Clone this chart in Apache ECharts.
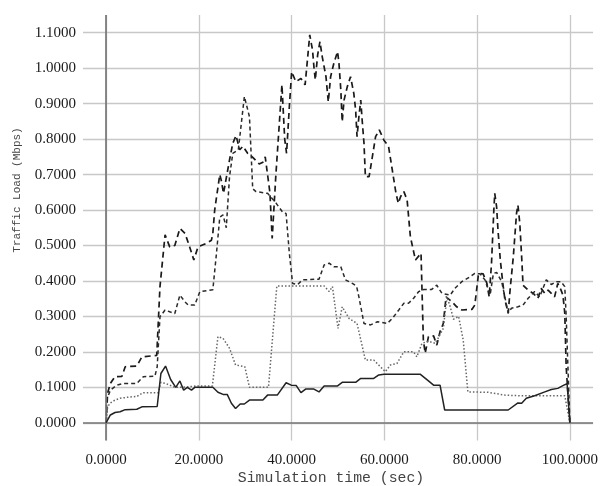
<!DOCTYPE html>
<html><head><meta charset="utf-8">
<script src="https://cdn.jsdelivr.net/npm/echarts@6/dist/echarts.min.js"></script>
<style>html,body{margin:0;padding:0;background:#fff}#c{width:601px;height:486px}</style>
</head><body><div id="c"></div>
<script>
const xTicks = [0, 20, 40, 60, 80, 100];
const yTicks = [0, 0.1, 0.2, 0.3, 0.4, 0.5, 0.6, 0.7, 0.8, 0.9, 1.0, 1.1];
const xTitle = 'Simulation time (sec)';
const yTitle = 'Traffic Load (Mbps)';

// Solid line
const solidT = [0, 0.9, 1.9, 3, 4.1, 6.6, 7.7, 11, 11.8, 12.8, 13.9, 15, 15.9, 16.7, 17.5, 18.4, 19.1, 20, 23, 24.1, 25.2, 26.1, 27, 27.9, 28.9, 29.8, 30.9, 33.8, 34.8, 36.9, 38.8, 39.9, 41, 42, 43, 44.8, 45.9, 47, 49.9, 50.9, 53.8, 54.9, 57.7, 58.8, 59.9, 67.7, 69.5, 70.6, 72, 73, 86.7, 88.8, 89.6, 90.6, 92.4, 94.6, 96, 97.4, 98.7, 99.4, 100];
const solidV = [0, 0.022, 0.029, 0.031, 0.037, 0.038, 0.045, 0.046, 0.139, 0.16, 0.122, 0.10, 0.118, 0.092, 0.10, 0.092, 0.10, 0.10, 0.10, 0.086, 0.08, 0.08, 0.055, 0.04, 0.053, 0.053, 0.064, 0.064, 0.078, 0.078, 0.113, 0.106, 0.105, 0.085, 0.095, 0.095, 0.087, 0.104, 0.104, 0.114, 0.114, 0.125, 0.125, 0.135, 0.137, 0.137, 0.118, 0.106, 0.106, 0.036, 0.036, 0.056, 0.055, 0.069, 0.076, 0.087, 0.094, 0.097, 0.106, 0.11, 0];

// Dotted line
const dotT = [0, 0.3, 0.9, 1.9, 3, 5.2, 6.6, 8, 11.2, 11.8, 13, 14.8, 16.6, 19.5, 22.9, 24.1, 25.2, 26.6, 27.9, 29.9, 30.9, 35, 36.8, 39.5, 41.6, 47, 48.1, 48.8, 50, 50.9, 52.4, 54.1, 55.9, 57.7, 60.2, 61.3, 62.7, 64.2, 66.3, 67, 68.1, 69.5, 71, 72.7, 73.5, 74.2, 74.9, 76, 77, 78, 82.4, 86, 89.6, 98.9, 100];
const dotV = [0, 0.045, 0.056, 0.064, 0.069, 0.073, 0.074, 0.085, 0.085, 0.114, 0.11, 0.10, 0.10, 0.104, 0.104, 0.243, 0.238, 0.21, 0.163, 0.158, 0.10, 0.10, 0.386, 0.386, 0.386, 0.386, 0.37, 0.384, 0.266, 0.327, 0.294, 0.28, 0.177, 0.177, 0.144, 0.163, 0.167, 0.20, 0.20, 0.186, 0.224, 0.23, 0.224, 0.266, 0.355, 0.327, 0.292, 0.30, 0.233, 0.087, 0.086, 0.078, 0.076, 0.076, 0];

// Short-dashed line
const shortT = [0, 0.1, 0.9, 2.3, 3.7, 6.6, 8, 10.5, 11, 11.6, 12.7, 13.7, 14.8, 15.9, 17, 17.7, 19.1, 20.2, 23, 23.8, 24.5, 25.2, 25.9, 26.6, 27.3, 28.5, 29.8, 30.9, 31.6, 32.3, 34.8, 36.6, 38, 38.8, 39.5, 40.2, 41.3, 42.3, 45.9, 47, 48.1, 49.1, 50.6, 51.6, 53.1, 54, 54.5, 55.6, 57, 58.5, 60.6, 61.7, 63.1, 64.2, 65.2, 66.3, 67.4, 68.5, 70.2, 71.3, 72.4, 74.2, 75.2, 76.7, 78.5, 79.5, 80.6, 81.7, 82.8, 83.5, 84.2, 85.3, 86.7, 87.4, 88.8, 89.9, 91, 92.4, 93.5, 94.9, 96, 97.1, 98.1, 98.9, 99.2, 100];
const shortV = [0, 0.064, 0.092, 0.106, 0.111, 0.111, 0.13, 0.131, 0.158, 0.299, 0.318, 0.313, 0.308, 0.36, 0.341, 0.332, 0.332, 0.37, 0.375, 0.48, 0.58, 0.586, 0.55, 0.694, 0.76, 0.77, 0.92, 0.863, 0.66, 0.652, 0.647, 0.62, 0.595, 0.59, 0.478, 0.393, 0.39, 0.403, 0.405, 0.445, 0.45, 0.44, 0.44, 0.403, 0.393, 0.385, 0.355, 0.28, 0.276, 0.285, 0.28, 0.294, 0.318, 0.337, 0.337, 0.351, 0.37, 0.376, 0.376, 0.388, 0.365, 0.36, 0.379, 0.398, 0.412, 0.421, 0.42, 0.403, 0.36, 0.421, 0.424, 0.398, 0.309, 0.323, 0.327, 0.332, 0.351, 0.37, 0.355, 0.403, 0.39, 0.398, 0.398, 0.384, 0.3, 0];

// Long-dashed line
const longT = [0, 0.3, 0.9, 1.9, 3.4, 4.1, 6.6, 7.7, 10.9, 11.6, 12.7, 13.7, 14.8, 15.9, 17, 18, 18.9, 19.8, 21.6, 22.7, 23, 23.4, 24.5, 24.8, 25.3, 26.6, 27.3, 28, 28.8, 29.5, 30.5, 31.5, 33, 33.8, 34.3, 35.3, 35.8, 36.6, 37.9, 38.5, 38.9, 39.5, 40, 40.9, 42, 42.9, 43.4, 43.9, 44.5, 44.8, 45.1, 45.6, 46.1, 46.6, 47.4, 47.9, 48.4, 49.1, 49.9, 50.2, 50.6, 50.9, 51.3, 52, 52.7, 53.4, 53.8, 54.1, 54.5, 54.9, 55.2, 55.6, 55.9, 56.7, 57.4, 58.1, 58.9, 59.9, 60.9, 61.7, 62.5, 63, 63.5, 64.2, 64.9, 65.6, 66.7, 67.9, 68.4, 68.8, 69.5, 70.6, 71.3, 72, 72.7, 73.3, 74.6, 75.6, 76.7, 78.9, 79.5, 80.3, 81.3, 82.1, 82.6, 83.1, 83.6, 83.8, 84.2, 84.5, 85, 85.5, 86, 86.7, 87.1, 87.8, 88.5, 88.8, 89.2, 89.6, 89.9, 91, 92.1, 93.1, 93.8, 94.6, 95.3, 96, 96.7, 97.4, 98.1, 98.5, 98.9, 99.2, 100];
const longV = [0, 0.083, 0.111, 0.13, 0.131, 0.158, 0.16, 0.186, 0.19, 0.384, 0.53, 0.496, 0.50, 0.548, 0.534, 0.496, 0.459, 0.496, 0.506, 0.515, 0.534, 0.60, 0.70, 0.685, 0.647, 0.741, 0.788, 0.81, 0.77, 0.78, 0.76, 0.75, 0.73, 0.735, 0.75, 0.65, 0.52, 0.70, 0.953, 0.80, 0.76, 0.891, 0.99, 0.962, 0.971, 0.953, 1.023, 1.094, 1.051, 1.004, 0.967, 1.037, 1.075, 1.032, 0.976, 0.905, 0.976, 1.014, 1.047, 1.014, 0.939, 0.849, 0.91, 0.948, 0.976, 0.929, 0.882, 0.807, 0.863, 0.91, 0.854, 0.788, 0.694, 0.694, 0.75, 0.807, 0.826, 0.797, 0.779, 0.713, 0.647, 0.619, 0.638, 0.652, 0.628, 0.525, 0.459, 0.478, 0.233, 0.196, 0.243, 0.245, 0.219, 0.257, 0.28, 0.355, 0.341, 0.327, 0.318, 0.32, 0.332, 0.421, 0.42, 0.393, 0.355, 0.45, 0.60, 0.647, 0.609, 0.543, 0.459, 0.398, 0.346, 0.309, 0.374, 0.468, 0.591, 0.614, 0.562, 0.468, 0.388, 0.374, 0.365, 0.351, 0.379, 0.365, 0.374, 0.365, 0.355, 0.393, 0.374, 0.36, 0.309, 0.158, 0];

function zip(t, v) { return t.map((x, i) => [x, v[i]]); }

const chart = echarts.init(document.getElementById('c'), null, { renderer: 'canvas' });
const labelFont = { fontFamily: 'Liberation Serif', fontSize: 15, color: '#1a1a1a' };
const gridLine = { show: true, lineStyle: { color: '#c8c8c8', width: 1.3 } };
function lineSeries(name, data, color, width, type, z) {
  return {
    name, type: 'line', data, showSymbol: false, symbol: 'none', z,
    lineStyle: { color, width, type }, emphasis: { disabled: true }, silent: true
  };
}
const solid = lineSeries('solid', zip(solidT, solidV), '#222', 1.5, 'solid', 6);
solid.markLine = {
  silent: true, symbol: 'none', label: { show: false }, animation: false,
  lineStyle: { color: '#777', width: 1.7, type: 'solid' },
  data: [{ xAxis: 0 }, { yAxis: 0 }]
};
chart.setOption({
  animation: false,
  grid: { left: 83, right: 6, top: 15, bottom: 45.5 },
  xAxis: {
    type: 'value', min: -5, max: 105,
    axisLine: { show: false },
    axisTick: { show: false, customValues: xTicks },
    axisLabel: Object.assign({ customValues: xTicks, margin: 12, formatter: v => v.toFixed(4) }, labelFont),
    splitLine: gridLine
  },
  yAxis: {
    type: 'value', min: -0.05, max: 1.15,
    axisLine: { show: false },
    axisTick: { show: false, customValues: yTicks },
    axisLabel: Object.assign({ customValues: yTicks, margin: 7, formatter: v => v.toFixed(4) }, labelFont),
    splitLine: gridLine
  },
  graphic: [
    { type: 'text', x: 331, y: 478, silent: true,
      style: { text: xTitle, font: '14.8px "Liberation Mono"', fill: '#444', align: 'center', verticalAlign: 'middle' } },
    { type: 'text', x: 17, y: 190, rotation: Math.PI / 2, silent: true,
      style: { text: yTitle, font: '11px "Liberation Mono"', fill: '#444', align: 'center', verticalAlign: 'middle' } }
  ],
  series: [
    lineSeries('long', zip(longT, longV), '#1a1a1a', 1.7, [6, 4], 3),
    lineSeries('short', zip(shortT, shortV), '#2a2a2a', 1.5, [4, 3], 4),
    lineSeries('dotted', zip(dotT, dotV), '#666', 1.5, [1.5, 2], 5),
    solid
  ]
});
</script>
</body></html>
